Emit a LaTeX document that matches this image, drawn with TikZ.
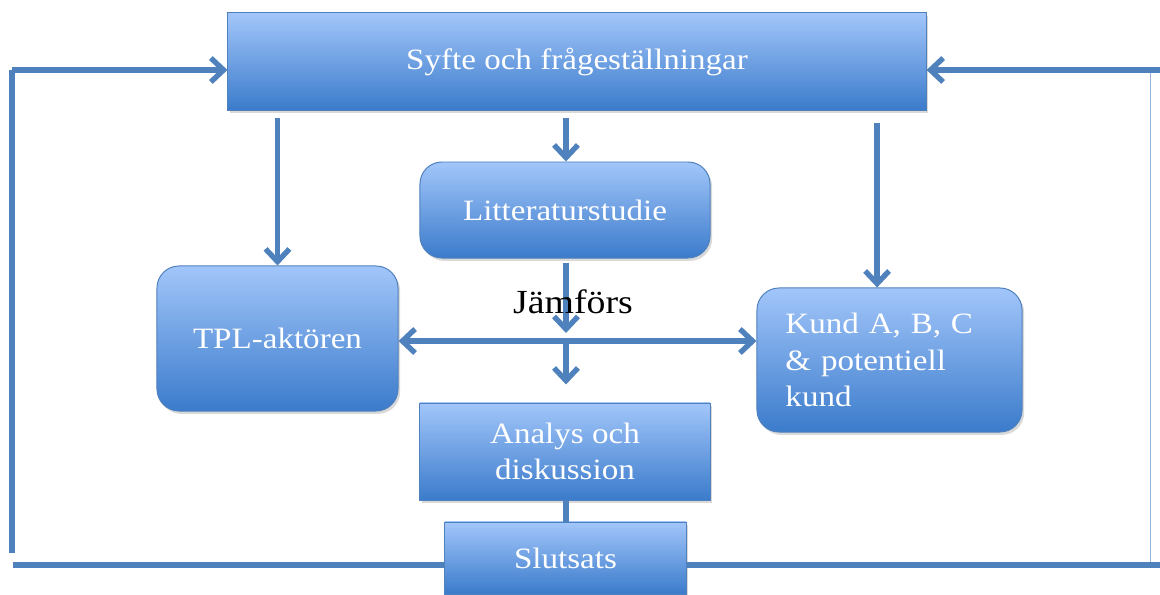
\documentclass[tikz,border=0pt]{standalone}
\usepackage{fontspec}
\setmainfont{Liberation Serif}[FakeStretch=1.12]
\usetikzlibrary{arrows.meta,shadows}
\definecolor{lineblue}{HTML}{4F81BD}
\definecolor{boxtop}{HTML}{A2C6FA}
\definecolor{boxbot}{HTML}{3B7BCB}
\begin{document}
\begin{tikzpicture}[x=0.025cm,y=-0.025cm,
                    main node/.style={draw=lineblue,line width=0.7pt,top color=boxtop,bottom color=boxbot,
                                      text=white,font=\fontsize{21}{26}\selectfont,align=center,inner sep=0pt,
                                      drop shadow={opacity=0.3,shadow xshift=1.5pt,shadow yshift=-2pt}},
                    round node/.style={main node,rounded corners=0.55cm},
                    line/.style={draw=lineblue,line width=3.8pt},
                    pil/.style={line,-{Straight Barb[length=9pt,width=17pt]}},
                    dubbelpil/.style={line,{Straight Barb[length=9pt,width=17pt]}-{Straight Barb[length=9pt,width=17pt]}}
                   ]
  \useasboundingbox (0,0) rectangle (1160,594);
  \clip (0,0) rectangle (1160,594);
  \node[main node,minimum width=17.45cm,minimum height=2.425cm] (1) at (577,61.5) {Syfte och frågeställningar};
  \node[round node,minimum width=6.025cm,minimum height=3.625cm] (2) at (277.5,338.5) {TPL-aktören};
  \node[round node,minimum width=7.25cm,minimum height=2.4cm] (3) at (565,210) {Litteraturstudie};
  \node[round node,minimum width=6.625cm,minimum height=3.6cm,align=left,
        text width=5.2cm,inner xsep=0.7cm] (4) at (889.5,360) {Kund A, B, C\\\& potentiell\\kund};
  \node[main node,minimum width=7.25cm,minimum height=2.425cm] (5) at (565,451.5) {Analys och\\diskussion};
  \node[main node,minimum width=6.025cm,minimum height=1.8cm] (6) at (565.5,558) {Slutsats};
  \coordinate (k) at (566,341);   % where the arrows cross
  % feedback loop, left and right
  \coordinate (a) at (13,565);
  \coordinate (b) at (12,553);
  \coordinate (c) at (12,70);
  \coordinate (d) at (1160,565);
  \coordinate (e) at (1150,562);
  \coordinate (f) at (1150,70);
  \coordinate (g) at (1160,70);
  \path%
    ([yshift=-0.18cm]1.south -| 2.north) edge[pil] (2.north)
    ([yshift=-0.18cm]1.south -| k) edge[pil] (3.north -| k)
    ([xshift=-0.31cm,yshift=-0.3cm]1.south -| 4.north) edge[pil] ([xshift=-0.31cm]4.north)
    ([yshift=-0.1cm]3.south -| k) edge[pil] ([yshift=0.2cm]k)
    (2.east |- k) edge[dubbelpil] (4.west |- k)
    (k) edge[pil] ([yshift=0.45cm]5.north -| k)
    (5.south -| k) edge[line] (6.north -| k);
  \node[font=\fontsize{24}{28}\selectfont] (J) at (573,302) {Jämförs};  % on top of the arrow
  \draw[line] (a) -- (6.west |- a);
  \draw[line] (b) -- (c);
  \draw[pil] (c) -- (c -| 1.west);
  \draw[line] (6.east |- d) -- (d);
  \draw[draw=lineblue!60,line width=0.6pt] (e) -- (f);
  \draw[pil] (g) -- (g -| 1.east);
\end{tikzpicture}
\end{document}
